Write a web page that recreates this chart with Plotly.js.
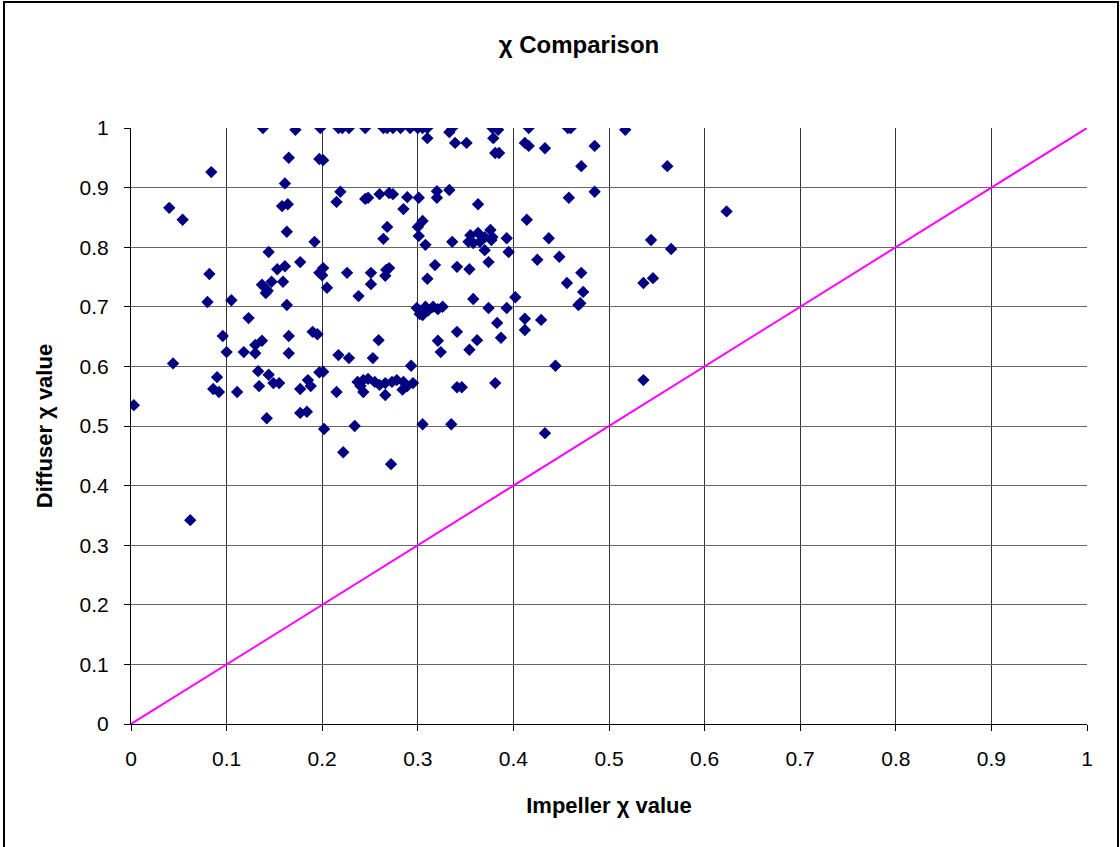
<!DOCTYPE html>
<html>
<head>
<meta charset="utf-8">
<script src="https://cdn.plot.ly/plotly-3.0.1.min.js"></script>
<style>
  html, body { margin: 0; padding: 0; background: #fff; }
  #wrap { position: relative; width: 1120px; height: 847px; overflow: hidden; }
  #chart { position: absolute; left: 0; top: 0; width: 1120px; height: 847px; }
  #frame { position: absolute; left: 3px; top: 1px; width: 1112px; height: 850px; border: 2px solid #000; pointer-events: none; }
</style>
</head>
<body>
<div id="wrap">
  <div id="chart"></div>
  <div id="frame"></div>
</div>
<script>
// Impeller chi value (x) and Diffuser chi value (y)
const impellerChi = [
  0.003, 0.040, 0.054, 0.044, 0.062, 0.084, 0.082, 0.080, 0.105, 0.138,
  0.172, 0.198, 0.165, 0.197, 0.161, 0.158, 0.164, 0.163, 0.192, 0.144,
  0.177, 0.153, 0.161, 0.197, 0.137, 0.147, 0.159, 0.141, 0.143, 0.163,
  0.123, 0.096, 0.165, 0.190, 0.195, 0.100, 0.118, 0.130, 0.130, 0.137,
  0.165, 0.133, 0.144, 0.149, 0.155, 0.090, 0.134, 0.185, 0.188, 0.177,
  0.197, 0.086, 0.092, 0.111, 0.177, 0.184, 0.142,
  0.217, 0.221, 0.228, 0.245, 0.264, 0.268, 0.274, 0.282, 0.292, 0.300,
  0.305, 0.310, 0.336, 0.333, 0.378, 0.384, 0.379, 0.416, 0.457, 0.460,
  0.517, 0.310, 0.339, 0.351, 0.381, 0.385, 0.412, 0.416, 0.433, 0.485,
  0.471, 0.561, 0.201, 0.219, 0.215, 0.245, 0.248, 0.260, 0.270, 0.274,
  0.289, 0.301, 0.285, 0.320, 0.320, 0.333, 0.363, 0.268, 0.264, 0.300,
  0.305, 0.301, 0.308, 0.336, 0.355, 0.363, 0.376, 0.353, 0.358, 0.365,
  0.377, 0.370, 0.374, 0.378, 0.370, 0.393, 0.395, 0.458, 0.485, 0.414,
  0.437, 0.544, 0.565, 0.425, 0.448, 0.471, 0.456, 0.473, 0.470, 0.468,
  0.536, 0.546, 0.402, 0.374, 0.393, 0.318, 0.341, 0.354, 0.358, 0.310,
  0.201, 0.200, 0.205, 0.226, 0.251, 0.251, 0.267, 0.270, 0.266, 0.238,
  0.299, 0.308, 0.316, 0.326, 0.302, 0.305, 0.311, 0.321, 0.383, 0.341,
  0.321, 0.324, 0.362, 0.354, 0.259, 0.217, 0.228, 0.253, 0.293, 0.201,
  0.237, 0.243, 0.248, 0.240, 0.243, 0.255, 0.260, 0.266, 0.273, 0.278,
  0.285, 0.284, 0.266, 0.289, 0.295, 0.215, 0.341, 0.346, 0.381, 0.202,
  0.234, 0.305, 0.335, 0.222, 0.272, 0.412, 0.429, 0.412, 0.387, 0.444,
  0.536, 0.433, 0.623
];
const diffuserChi = [
  0.535, 0.866, 0.846, 0.605, 0.342, 0.926, 0.755, 0.708, 0.711, 1.000,
  0.997, 1.000, 0.950, 0.948, 0.907, 0.869, 0.872, 0.826, 0.809, 0.792,
  0.775, 0.763, 0.768, 0.757, 0.737, 0.742, 0.742, 0.723, 0.727, 0.703,
  0.681, 0.651, 0.651, 0.658, 0.654, 0.624, 0.624, 0.622, 0.636, 0.643,
  0.622, 0.592, 0.586, 0.572, 0.572, 0.582, 0.567, 0.577, 0.567, 0.562,
  0.590, 0.562, 0.557, 0.557, 0.522, 0.524, 0.513,
  1.000, 1.000, 1.000, 1.000, 1.000, 1.000, 1.000, 1.000, 1.000, 1.000,
  1.000, 1.000, 1.000, 0.993, 1.000, 0.997, 0.983, 1.000, 1.000, 1.000,
  0.997, 0.983, 0.975, 0.975, 0.958, 0.958, 0.975, 0.970, 0.966, 0.970,
  0.936, 0.936, 0.946, 0.893, 0.876, 0.881, 0.883, 0.889, 0.891, 0.889,
  0.884, 0.883, 0.864, 0.894, 0.883, 0.896, 0.872, 0.834, 0.814, 0.834,
  0.844, 0.819, 0.804, 0.809, 0.820, 0.824, 0.829, 0.809, 0.807, 0.809,
  0.812, 0.795, 0.775, 0.817, 0.817, 0.815, 0.792, 0.883, 0.893, 0.846,
  0.815, 0.812, 0.797, 0.779, 0.784, 0.757, 0.740, 0.725, 0.706, 0.703,
  0.740, 0.748, 0.716, 0.698, 0.698, 0.770, 0.767, 0.763, 0.713, 0.747,
  0.765, 0.753, 0.732, 0.757, 0.757, 0.738, 0.762, 0.765, 0.752, 0.718,
  0.698, 0.700, 0.700, 0.700, 0.688, 0.686, 0.694, 0.696, 0.673, 0.658,
  0.643, 0.624, 0.644, 0.628, 0.644, 0.619, 0.614, 0.614, 0.601, 0.591,
  0.574, 0.577, 0.579, 0.567, 0.557, 0.574, 0.569, 0.572, 0.574, 0.577,
  0.574, 0.561, 0.552, 0.567, 0.572, 0.557, 0.565, 0.565, 0.572, 0.495,
  0.500, 0.503, 0.503, 0.456, 0.436, 0.680, 0.678, 0.661, 0.648, 0.601,
  0.577, 0.488, 0.860
];
// Reference line y = x
const refLineX = [0, 1];
const refLineY = [0, 1];
const tickVals = [0, 0.1, 0.2, 0.3, 0.4, 0.5, 0.6, 0.7, 0.8, 0.9, 1];
const tickText = ['0', '0.1', '0.2', '0.3', '0.4', '0.5', '0.6', '0.7', '0.8', '0.9', '1'];

const FONT = 'Liberation Sans, Arial, sans-serif';

const traces = [
  {
    x: refLineX, y: refLineY, type: 'scatter', mode: 'lines',
    line: { color: '#FF00FF', width: 2 }, hoverinfo: 'skip', showlegend: false
  },
  {
    x: impellerChi, y: diffuserChi, type: 'scatter', mode: 'markers',
    marker: { symbol: 'diamond', size: 9.5, color: '#000080', line: { width: 0 } },
    showlegend: false
  }
];

const layout = {
  width: 1120, height: 847,
  paper_bgcolor: '#ffffff', plot_bgcolor: '#ffffff',
  margin: { l: 131, r: 33, t: 128, b: 123 },
  font: { family: FONT, color: '#000', size: 21 },
  title: {
    text: '<b>χ Comparison</b>',
    font: { family: FONT, size: 24, color: '#000' },
    x: 0.517, xanchor: 'center', y: 0.947, yanchor: 'middle'
  },
  xaxis: {
    range: [0, 1], tickvals: tickVals, ticktext: tickText,
    showgrid: true, gridcolor: '#333', gridwidth: 1,
    showline: true, linecolor: '#000', linewidth: 1,
    ticks: 'outside', ticklen: 6, tickcolor: '#000',
    ticklabelstandoff: 10,
    zeroline: false, fixedrange: true,
    tickfont: { family: FONT, size: 21, color: '#000' },
    title: { text: '<b>Impeller χ value</b>', font: { family: FONT, size: 22, color: '#000' }, standoff: 28 }
  },
  yaxis: {
    range: [0, 1], tickvals: tickVals, ticktext: tickText,
    showgrid: true, gridcolor: '#666', gridwidth: 1,
    showline: true, linecolor: '#000', linewidth: 1,
    ticks: 'outside', ticklen: 6, tickcolor: '#000',
    ticklabelstandoff: 11,
    zeroline: false, fixedrange: true,
    tickfont: { family: FONT, size: 21, color: '#000' },
    title: { text: '<b>Diffuser χ value</b>', font: { family: FONT, size: 22, color: '#000' }, standoff: 20 }
  }
};

Plotly.newPlot('chart', traces, layout, { displayModeBar: false, staticPlot: true });
</script>
</body>
</html>
